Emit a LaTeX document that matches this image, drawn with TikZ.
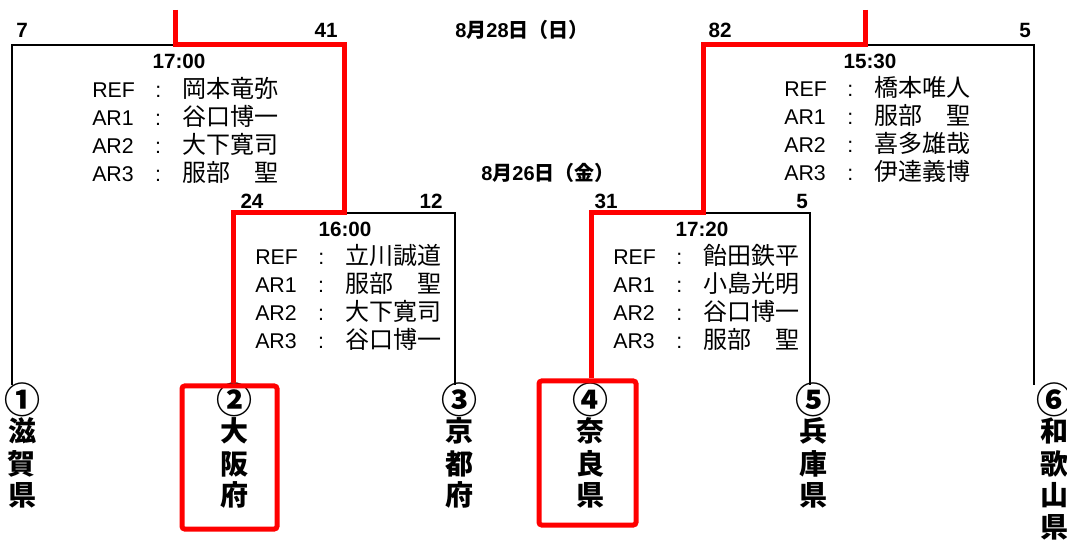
\documentclass[tikz,border=0pt]{standalone}
\usepackage{fontspec}
\setmainfont{Liberation Sans}
\newfontfamily\jp{Noto Sans CJK JP}
\usetikzlibrary{calc}
\newcommand\rrow[2]{\hbox{\makebox[47.25pt][l]{#1}\makebox[20.25pt][l]{:}{\jp\fontsize{18}{18}\selectfont #2}}}
\newcommand\rblock[4]{\vtop{\fontsize{16}{21}\selectfont\baselineskip=21pt\lineskiplimit=-30pt\lineskip=0pt
  \rrow{REF}{#1}\rrow{AR1}{#2}\rrow{AR2}{#3}\rrow{AR3}{#4}}}
\newcommand\cnum[1]{\raisebox{-2.5pt}{\fontsize{27}{24}\selectfont #1}}
\newcommand\teamtext[1]{\vtop{\hsize=40pt\parindent=0pt\centering\jp\bfseries\fontsize{21}{24}\selectfont\baselineskip=24pt\lineskiplimit=-30pt #1\par}}
\begin{document}
\begin{tikzpicture}[x=0.75pt,y=-0.75pt,
  bline/.style={draw=black,line width=1.5pt},
  rline/.style={draw=red,line width=3.75pt,line join=miter},
  rbox/.style={draw=red,line width=3.75pt,rounded corners=2pt,inner sep=0pt},
  num/.style={anchor=base,inner sep=0pt,font=\bfseries\fontsize{15.5}{16}\selectfont},
  datelbl/.style={anchor=base,inner sep=0pt,font=\bfseries\fontsize{15}{16}\selectfont},
  refs/.style={anchor=base west,inner sep=0pt},
  team/.style={anchor=base,inner sep=0pt}]
\path[use as bounding box] (0,0) rectangle (1067,541);
% team labels
\node[team] (t1) at (22,410) {\teamtext{\cnum{①}\par 滋\par 賀\par 県}};
\node[team] (t2) at (234,410) {\teamtext{\cnum{②}\par 大\par 阪\par 府}};
\node[team] (t3) at (459,410) {\teamtext{\cnum{③}\par 京\par 都\par 府}};
\node[team] (t4) at (590,410) {\teamtext{\cnum{④}\par 奈\par 良\par 県}};
\node[team] (t5) at (813,410) {\teamtext{\cnum{⑤}\par 兵\par 庫\par 県}};
\node[team] (t6) at (1054,410) {\teamtext{\cnum{⑥}\par 和\par 歌\par 山\par 県}};
% red boxes
\node[rbox,minimum width=71.25pt,minimum height=107.25pt] (b2) at (229.5,457.5) {};
\node[rbox,minimum width=72.75pt,minimum height=108pt] (b4) at (587.5,453) {};
% corner coordinates
\coordinate (bot) at (0,385);
\coordinate (m1L) at (12,45);
\coordinate (m1R) at (344,45);
\coordinate (m2L) at (233,213);
\coordinate (m2R) at (455,213);
\coordinate (m3L) at (591,213);
\coordinate (m3R) at (810,213);
\coordinate (m4L) at (703,45);
\coordinate (m4R) at (1034,45);
\coordinate (fL) at (175,10);
\coordinate (fR) at (865,10);
% black brackets
\draw[bline] (m1L |- bot) -- (m1L) -- (m1R);
\draw[bline] (m2L) -- (m2R) -- (m2R |- bot);
\draw[bline] (m3L) -- (m3R) -- (m3R |- bot);
\draw[bline] (m4L) -- (m4R) -- (m4R |- bot);
% red winner paths
\draw[rline] (fL) -- (fL |- m1R) -- (m1R) -- (m1R |- m2L) -- (m2L) -- (m2L |- b2.north);
\draw[rline] (fR) -- (fR |- m4L) -- (m4L) -- (m4L |- m3L) -- (m3L) -- (m3L |- b4.north);
% scores
\node[num] (n7) at (22,37.5) {7};
\node[num] (n41) at (326,37.5) {41};
\node[num] (n24) at (252,208.5) {24};
\node[num] (n12) at (431,208.5) {12};
\node[num] (n82) at (720,37.5) {82};
\node[num] (n5a) at (1025,37.5) {5};
\node[num] (n31) at (606,208.5) {31};
\node[num] (n5b) at (802,208.5) {5};
% times
\node[num] (tA) at (179,68.5) {17:00};
\node[num] (tB) at (345,236.5) {16:00};
\node[num] (tC) at (870,68.5) {15:30};
\node[num] (tD) at (702,236.5) {17:20};
% dates
\node[datelbl] (d1) at (522,37.5) {8{\jp 月}28{\jp 日（日）}};
\node[datelbl] (d2) at (548,180.5) {8{\jp 月}26{\jp 日（金）}};
% referees
\node[refs] (rA) at (92,98) {\rblock{岡本竜弥}{谷口博一}{大下寛司}{服部　聖}};
\node[refs] (rB) at (255,265) {\rblock{立川誠道}{服部　聖}{大下寛司}{谷口博一}};
\node[refs] (rC) at (784,97) {\rblock{橋本唯人}{服部　聖}{喜多雄哉}{伊達義博}};
\node[refs] (rD) at (613,265) {\rblock{飴田鉄平}{小島光明}{谷口博一}{服部　聖}};
\end{tikzpicture}
\end{document}
